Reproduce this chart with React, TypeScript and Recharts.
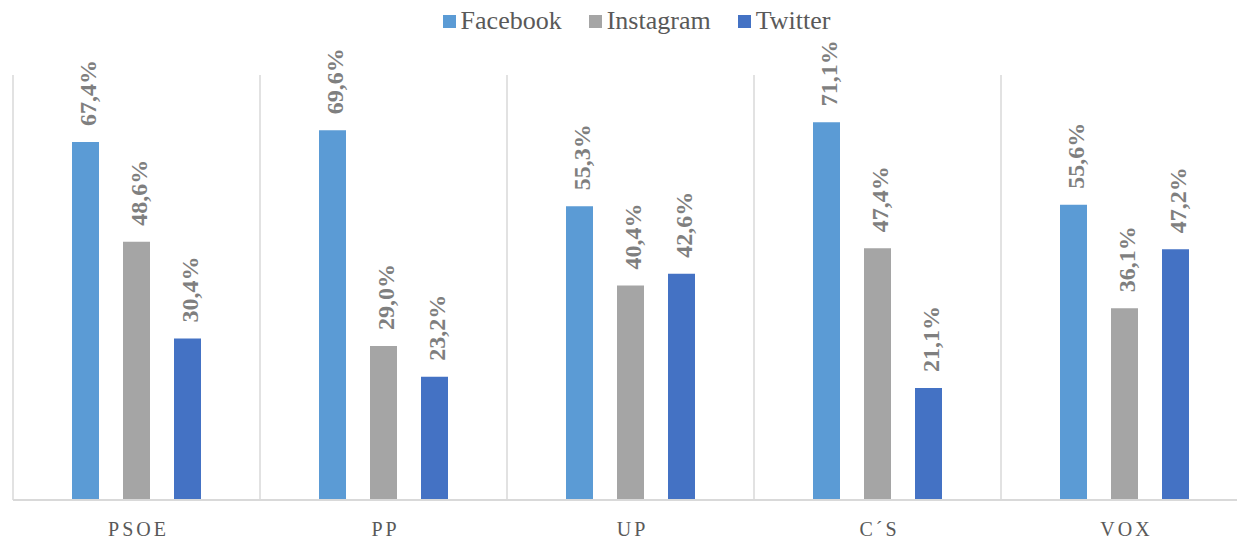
import { BarChart, Bar, XAxis, YAxis, CartesianGrid, LabelList } from "recharts";

const parties = ["PSOE", "PP", "UP", "C´S", "VOX"];
const facebook = [67.4, 69.6, 55.3, 71.1, 55.6];
const instagram = [48.6, 29.0, 40.4, 47.4, 36.1];
const twitter = [30.4, 23.2, 42.6, 21.1, 47.2];

const series = [
  { key: "facebook", name: "Facebook", color: "#5b9bd5" },
  { key: "instagram", name: "Instagram", color: "#a5a5a5" },
  { key: "twitter", name: "Twitter", color: "#4472c4" },
];

const data = parties.map((name, i) => ({
  name,
  facebook: facebook[i],
  instagram: instagram[i],
  twitter: twitter[i],
}));

const FONT = "Liberation Serif";

const fmt = (v: number) => `${v.toFixed(1).replace(".", ",")}%`;

// eslint-disable-next-line @typescript-eslint/no-explicit-any
function RotatedLabel(props: any) {
  const { x, y, width, value } = props;
  const cx = x + width / 2 + 2;
  const ty = y - 16;
  return (
    <text
      x={cx}
      y={ty}
      transform={`rotate(-90, ${cx}, ${ty})`}
      textAnchor="start"
      dominantBaseline="central"
      fill="#7f7f7f"
      fontFamily={FONT}
      fontWeight="bold"
      fontSize={24}
    >
      {fmt(value)}
    </text>
  );
}

// eslint-disable-next-line @typescript-eslint/no-explicit-any
function PartyTick(props: any) {
  const { x, y, payload } = props;
  return (
    <text
      x={x + 2}
      y={y + 28}
      textAnchor="middle"
      fill="#595959"
      fontFamily={FONT}
      fontSize={20}
      letterSpacing={3}
    >
      {payload.value}
    </text>
  );
}

function TopLegend() {
  return (
    <div
      style={{
        position: "absolute",
        top: 6,
        left: 0,
        width: 1237,
        display: "flex",
        justifyContent: "center",
        gap: 27,
        fontFamily: FONT,
        fontSize: 26,
        color: "#595959",
        lineHeight: "30px",
        paddingLeft: 36,
        boxSizing: "border-box",
      }}
    >
      {series.map((s) => (
        <div key={s.key} style={{ display: "flex", alignItems: "center", gap: 5 }}>
          <span style={{ width: 13, height: 13, background: s.color, display: "inline-block" }} />
          <span>{s.name}</span>
        </div>
      ))}
    </div>
  );
}

export default function App() {
  return (
    <div
      style={{
        position: "absolute",
        top: 0,
        left: 0,
        width: 1237,
        height: 539,
        overflow: "hidden",
        background: "#fff",
      }}
    >
      <TopLegend />
      <BarChart
        width={1250}
        height={539}
        data={data}
        margin={{ top: 75, right: 2, bottom: 0, left: 13 }}
        barSize={27}
        barGap={24}
      >
        <CartesianGrid
          horizontal={false}
          stroke="#d9d9d9"
          strokeWidth={1.5}
          // eslint-disable-next-line @typescript-eslint/no-explicit-any
          verticalCoordinatesGenerator={({ offset }: any) =>
            Array.from(
              { length: parties.length + 1 },
              (_, i) => offset.left + (i * offset.width) / parties.length
            )
          }
        />
        <XAxis
          dataKey="name"
          height={39}
          tickLine={false}
          axisLine={{ stroke: "#d9d9d9", strokeWidth: 2 }}
          tick={<PartyTick />}
          interval={0}
        />
        <YAxis hide domain={[0, 80]} />
        {series.map((s) => (
          <Bar key={s.key} dataKey={s.key} name={s.name} fill={s.color} isAnimationActive={false}>
            <LabelList dataKey={s.key} content={<RotatedLabel />} />
          </Bar>
        ))}
      </BarChart>
    </div>
  );
}
